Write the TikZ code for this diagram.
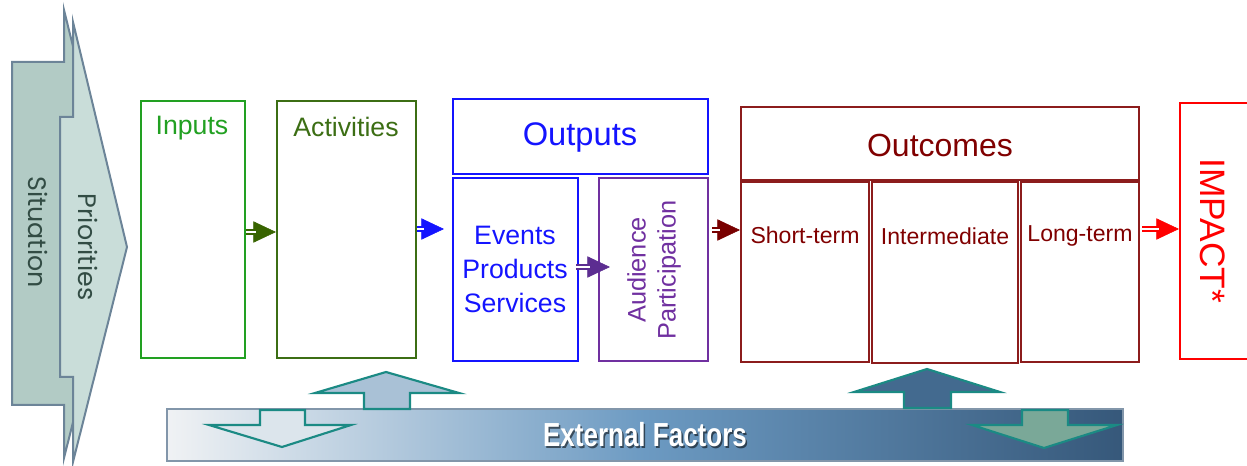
\documentclass[tikz,border=0pt]{standalone}
\usepackage{fontspec}
\setmainfont{Liberation Sans}
\newfontfamily\gothic{Poppins}
\usetikzlibrary{arrows.meta,calc,fit}
\definecolor{cInputs}{RGB}{34,160,34}
\definecolor{cAct}{RGB}{60,110,20}
\definecolor{cActArrow}{RGB}{56,100,0}
\definecolor{cBlue}{RGB}{20,20,255}
\definecolor{cPurple}{RGB}{112,48,160}
\definecolor{cPurpleArrow}{RGB}{92,45,145}
\definecolor{cDark}{RGB}{140,28,28}
\definecolor{cDarkText}{RGB}{128,0,0}
\definecolor{cDarkArrow}{RGB}{120,0,0}
\definecolor{cRed}{RGB}{255,0,0}
\definecolor{sitFill}{RGB}{178,203,197}
\definecolor{priFill}{RGB}{201,221,217}
\definecolor{sitLine}{RGB}{108,132,152}
\definecolor{sitText}{RGB}{50,76,68}
\definecolor{efLine}{RGB}{27,138,132}
\definecolor{efBorder}{RGB}{130,150,170}
\definecolor{efLeft}{RGB}{240,242,244}
\definecolor{efMid}{RGB}{108,154,194}
\definecolor{efRight}{RGB}{54,88,122}
\definecolor{upA}{RGB}{169,193,214}
\definecolor{upB}{RGB}{67,106,143}
\definecolor{downA}{RGB}{220,229,236}
\definecolor{downB}{RGB}{122,168,152}
\tikzset{
  box/.style={draw=#1, line width=1.6pt, inner sep=0pt},
  sitshape/.style={draw=sitLine, line width=1.5pt, line join=miter},
  sittext/.style={text=sitText, font=\gothic\fontsize{19}{19}\selectfont, rotate=-90},
  tipline/.style={draw=#1, line width=0.4pt, -{Triangle[length=17pt,width=16pt,fill=#1]}},
  shaft/.style={draw=#1, double=white, double distance=1.8pt, line width=1.3pt, shorten >=15pt},
  efarrow/.style={draw=efLine, line width=1.6pt, line join=miter}
}
\newcommand\flowarrow[3]{\draw[tipline=#1] #2 -- #3; \draw[shaft=#1] #2 -- #3;}
\begin{document}
\begin{tikzpicture}[x=0.75pt,y=-0.75pt]
\useasboundingbox (0,0) rectangle (1247,466);
% situation / priorities
\draw[sitshape, fill=sitFill] (12,62) -- (64,62) -- (64,10) -- (120,236) -- (64,458) -- (64,405) -- (12,405) -- cycle;
\draw[sitshape, fill=priFill] (60,117) -- (73,117) -- (73,22) -- (127,247) -- (73,462) -- (73,377) -- (60,377) -- cycle;
\node[sittext] (situation) at (38,232) {Situation};
\node[sittext] (priorities) at (88,247) {Priorities};
% boxes
\node[box=cInputs, fit={(141,101) (245,358)}] (inputs) {};
\node[text=cInputs, font=\fontsize{20}{20}\selectfont, anchor=north] (inputsT) at (192,111) {Inputs};
\node[box=cAct, fit={(277,101) (416,358)}] (activities) {};
\node[text=cAct, font=\fontsize{20}{20}\selectfont, anchor=north] (actT) at (346,112) {Activities};
\node[box=cBlue, fit={(453,99) (708,174)}] (outputs) {};
\node[text=cBlue, font=\fontsize{24.5}{24.5}\selectfont] (outT) at (580,137) {Outputs};
\node[box=cBlue, fit={(453,178) (578,361)}] (events) {};
\node[text=cBlue, font=\fontsize{20}{25.5}\selectfont, align=center] (eventsT) at (515,269) {Events\\Products\\Services};
\node[box=cPurple, fit={(599,178) (708,361)}] (audience) {};
\node[text=cPurple, font=\fontsize{19}{22.5}\selectfont, align=center, rotate=90] (audT) at (654,270) {Audience\\Participation};
\node[box=cDark, fit={(741,107) (1139,180)}] (outcomes) {};
\node[text=cDarkText, font=\fontsize{24}{24}\selectfont] (outcT) at (940,145) {Outcomes};
\node[box=cDark, fit={(741,182) (869,362)}] (shortterm) {};
\node[text=cDarkText, font=\fontsize{17.3}{17.3}\selectfont] (stT) at (805,235) {Short-term};
\node[box=cDark, fit={(872,182) (1018,363)}] (intermediate) {};
\node[text=cDarkText, font=\fontsize{17.3}{17.3}\selectfont] (imT) at (945,236) {Intermediate};
\node[box=cDark, fit={(1021,182) (1139,362)}] (longterm) {};
\node[text=cDarkText, font=\fontsize{17.3}{17.3}\selectfont] (ltT) at (1080,236) {Long-term};
\node[box=cRed, fit={(1180,103) (1270,359)}] (impact) {};
\node[text=cRed, font=\fontsize{26.5}{26.5}\selectfont, rotate=-90] (impT) at (1213,231) {IMPACT*};
% flow arrows
\flowarrow{cActArrow}{(inputs.east |- 0,232)}{(activities.west |- 0,232)}
\flowarrow{cBlue}{(activities.east |- 0,229)}{($(events.west |- 0,229)+(-8,0)$)}
\flowarrow{cPurpleArrow}{($(events.east |- 0,267)+(-3,0)$)}{($(audience.west |- 0,267)+(12,0)$)}
\flowarrow{cDarkArrow}{($(audience.east |- 0,230)+(3,0)$)}{(shortterm.west |- 0,230)}
\flowarrow{cRed}{($(longterm.east |- 0,229)+(2,0)$)}{(impact.west |- 0,229)}
% external factors
\node[fit={(167,409) (1123,461)}, inner sep=0pt, draw=efBorder, line width=1pt,
      left color=efLeft, right color=efRight, middle color=efMid] (ext) {};
\node[text=black, opacity=0.55, font=\bfseries\fontsize{25}{25}\selectfont] at ($(ext.center)+(1.5,1.5)$) {\scalebox{0.78}[1]{External Factors}};
\node[text=white, font=\bfseries\fontsize{25}{25}\selectfont] (extT) at (ext.center) {\scalebox{0.78}[1]{External Factors}};
\draw[efarrow, fill=upA] (386,372) -- (459,393) -- (410,393) -- (410,409) -- (364,409) -- (364,393) -- (315,393) -- cycle;
\draw[efarrow, fill=downA] (260,410) -- (305,410) -- (305,425) -- (351,425) -- (282,447) -- (209,425) -- (260,425) -- cycle;
\draw[efarrow, fill=upB] (927,369) -- (1000,392) -- (951,392) -- (951,408) -- (904,408) -- (904,392) -- (854,392) -- cycle;
\draw[efarrow, fill=downB] (1022,410) -- (1068,410) -- (1068,425) -- (1117,425) -- (1044,448) -- (972,425) -- (1022,425) -- cycle;
\end{tikzpicture}
\end{document}
